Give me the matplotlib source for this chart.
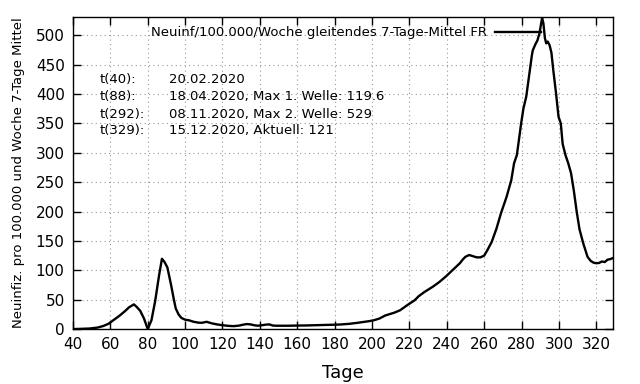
import matplotlib
matplotlib.use("Agg")
import matplotlib.pyplot as plt

days = [40, 45, 49, 53, 56, 59, 62, 65, 68, 70, 72.6, 74, 76, 78, 80, 82, 84, 86, 87.6,
        89, 90.5, 92.5, 94, 95, 96.5, 98, 100, 102, 104.5, 107, 109, 111.5, 114, 117,
        119.5, 123, 126, 129, 131, 133, 135, 137, 139, 141, 143, 145, 147, 149, 155,
        160, 165, 172, 179, 183, 188, 193, 198.7, 201, 204, 207, 210, 212, 215, 219,
        222.8, 225, 228, 232.5, 236, 239.7, 242, 245, 247, 248.6, 250, 252, 254, 256,
        258, 260, 261.5, 264, 266.5, 269, 272, 274.5, 276, 277.5, 279.8, 281, 282.5,
        284, 285.5, 286, 287.5, 288.5, 289.6, 290.5, 291, 291.7, 292.5, 293.2, 294,
        295, 296, 297, 298.5, 299.8, 301, 302, 303.5, 305, 306.5, 308, 309.5, 311,
        313, 315.3, 317, 318.5, 320, 321.5, 323, 324.5, 326, 327.5, 329]
values = [0, 0.5, 1, 2.5, 5, 9, 16, 23, 31, 37, 42, 38, 31, 18, 0, 15, 48, 90, 119.6,
          114, 105, 75, 50, 35, 25, 19, 16, 15, 12.5, 11, 10.7, 12.4, 10, 8,
          6.8, 5.5, 5, 6, 7.5, 8.5, 8, 6.5, 5.7, 6.5, 7.5, 8, 6, 5.7, 5.7,
          6, 6.2, 6.8, 7.4, 7.8, 9, 11, 13.6, 15, 18, 23, 26, 28, 32, 41,
          49, 56, 63, 72, 80, 90, 97, 106, 112, 118.5, 123, 126, 124, 122,
          122, 125, 133, 148, 170, 197, 225, 253, 282, 296, 350, 375, 395,
          430, 465, 474, 485, 491, 503, 520, 529, 520, 495, 486, 489,
          483, 470, 440, 400, 361, 350, 315, 296, 282, 265, 235, 200, 170,
          146, 123, 116, 113, 112, 112.5, 115, 114, 118, 119, 121]

series_label = "Neuinf/100.000/Woche gleitendes 7-Tage-Mittel FR"
info_keys = ["t(40):", "t(88):", "t(292):", "t(329):"]
info_vals = ["20.02.2020", "18.04.2020, Max 1. Welle: 119.6",
             "08.11.2020, Max 2. Welle: 529", "15.12.2020, Aktuell: 121"]
xticks = list(range(40, 321, 20))
yticks = list(range(0, 501, 50))

fig = plt.figure(figsize=(6.4, 3.84), dpi=100)
ax = fig.add_axes([0.114, 0.143, 0.844, 0.813])

ax.plot(days, values, color="black", lw=1.7, label=series_label)
ax.set_xlim(40, 329)
ax.set_ylim(0, 531)
ax.set_xticks(xticks)
ax.set_yticks(yticks)
ax.tick_params(direction="in", top=True, right=True, length=6, width=1,
               labelsize=11, pad=6)
ax.grid(True, linestyle=(0, (1, 3)), color="#999999", lw=0.8)
for s in ax.spines.values():
    s.set_linewidth(1)

ax.set_xlabel("Tage", fontsize=13, labelpad=8)
ax.set_ylabel("Neuinfiz. pro 100.000 und Woche 7-Tage Mittel", fontsize=9.5, labelpad=8)

leg = ax.legend(loc="upper right", bbox_to_anchor=(0.881, 0.995), frameon=False,
                markerfirst=False, fontsize=9.5, handlelength=3.5, handletextpad=0.6,
                borderaxespad=0.2)

ys = [0.798, 0.744, 0.686, 0.635]
for k, v, y in zip(info_keys, info_vals, ys):
    ax.text(0.05, y, k, transform=ax.transAxes, fontsize=9.5, va="center")
    ax.text(0.178, y, v, transform=ax.transAxes, fontsize=9.5, va="center")

fig.savefig("out.png", dpi=100)
